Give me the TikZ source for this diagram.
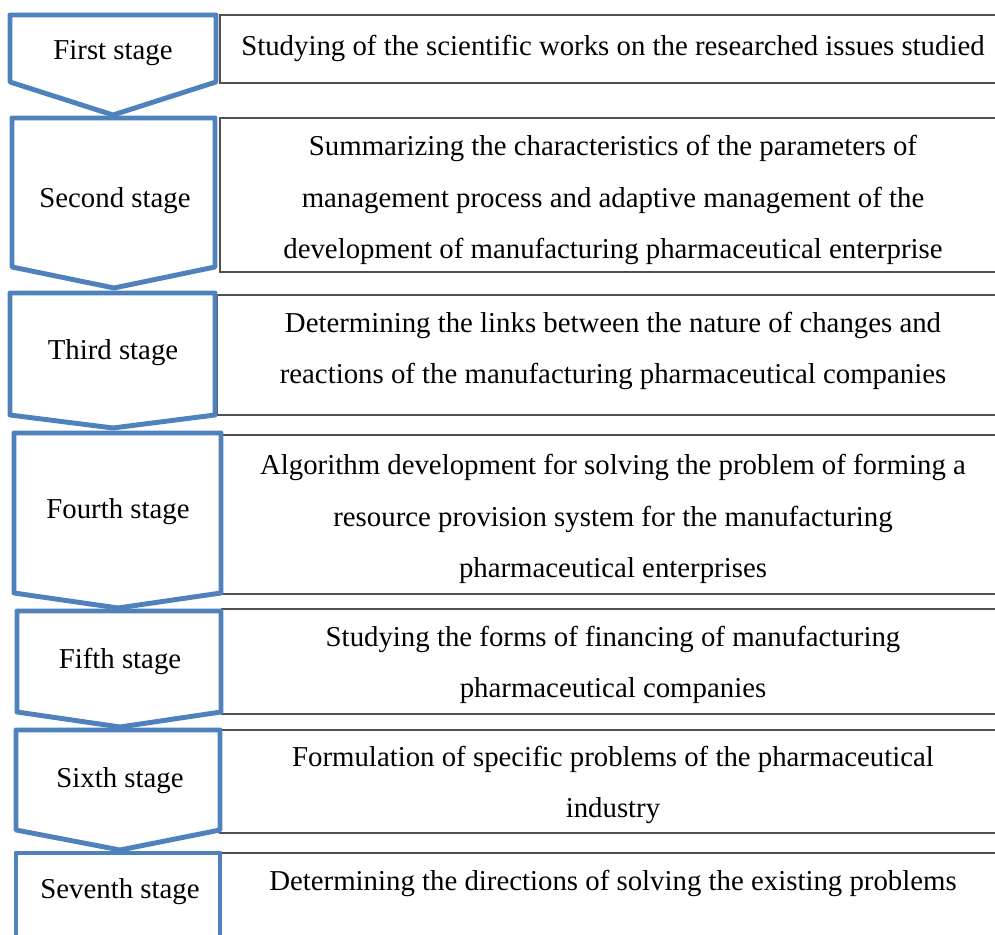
\documentclass[tikz,border=0pt]{standalone}
\usepackage{fontspec}
\setmainfont{Liberation Serif}
\usetikzlibrary{positioning}
\definecolor{stageblue}{RGB}{79,129,189}
\definecolor{boxgray}{RGB}{80,80,80}
\tikzstyle{stage} = [draw=stageblue, line width=2.8pt, line join=round, fill=white]
\tikzstyle{task} = [draw=boxgray, line width=0.9pt]
\tikzstyle{stagetext} = [text centered, font=\fontsize{16.4}{29.5}\selectfont]
\tikzstyle{tasktext} = [align=center, font=\fontsize{16.4}{29.5}\selectfont]

\begin{document}
\begin{tikzpicture}[x=0.02cm, y=-0.02cm]
        \useasboundingbox (0,0) rectangle (995,935);
        \clip (0,0) rectangle (995,935);
        % Boxes on the right with the work of each stage
        \draw [task] (1010,15) -- (220,15) -- (220,83) -- (1010,83);
        \draw [task] (1010,118) -- (220,118) -- (220,272) -- (1010,272);
        \draw [task] (1010,295) -- (217,295) -- (217,415) -- (1010,415);
        \draw [task] (1010,435) -- (222,435) -- (222,594) -- (1010,594);
        \draw [task] (1010,609) -- (222,609) -- (222,714) -- (1010,714);
        \draw [task] (1010,730) -- (220,730) -- (220,833) -- (1010,833);
        \draw [task] (1010,853) -- (220,853) -- (220,960);
        % Stage arrows pointing down
        \draw [stage] (10,15) -- (216,15) -- (216,82) -- (113,115) -- (10,82) -- cycle;
        \draw [stage] (12,118) -- (215,118) -- (215,267) -- (114,288) -- (12,267) -- cycle;
        \draw [stage] (10,293) -- (215,293) -- (215,415) -- (113,428) -- (10,415) -- cycle;
        \draw [stage] (14,433) -- (221,433) -- (221,593) -- (118,608) -- (14,593) -- cycle;
        \draw [stage] (17,611) -- (221,611) -- (221,712) -- (120,727) -- (17,712) -- cycle;
        \draw [stage] (16,730) -- (220,730) -- (220,830) -- (120,850) -- (16,830) -- cycle;
        \draw [stage] (16,853) -- (220,853) -- (220,970) -- (16,970) -- cycle;
        % Stage names
        \node (s1) [stagetext] at (113,53) {First stage};
        \node (s2) [stagetext] at (115,201) {Second stage};
        \node (s3) [stagetext] at (113,353) {Third stage};
        \node (s4) [stagetext] at (118,512) {Fourth stage};
        \node (s5) [stagetext] at (120,661) {Fifth stage};
        \node (s6) [stagetext] at (120,781) {Sixth stage};
        \node (s7) [stagetext] at (120,892) {Seventh stage};
        % Work done at each stage
        \node (t1) [tasktext] at (613,48) {Studying of the scientific works on the researched issues studied};
        \node (t2) [tasktext] at (613,200) {Summarizing the characteristics of the parameters of\\management process and adaptive management of the\\development of manufacturing pharmaceutical enterprise};
        \node (t3) [tasktext] at (613,351) {Determining the links between the nature of changes and\\reactions of the manufacturing pharmaceutical companies};
        \node (t4) [tasktext] at (613,519) {Algorithm development for solving the problem of forming a\\resource provision system for the manufacturing\\pharmaceutical enterprises};
        \node (t5) [tasktext] at (613,665) {Studying the forms of financing of manufacturing\\pharmaceutical companies};
        \node (t6) [tasktext] at (613,785) {Formulation of specific problems of the pharmaceutical\\industry};
        \node (t7) [tasktext] at (613,883) {Determining the directions of solving the existing problems};
\end{tikzpicture}
\end{document}
